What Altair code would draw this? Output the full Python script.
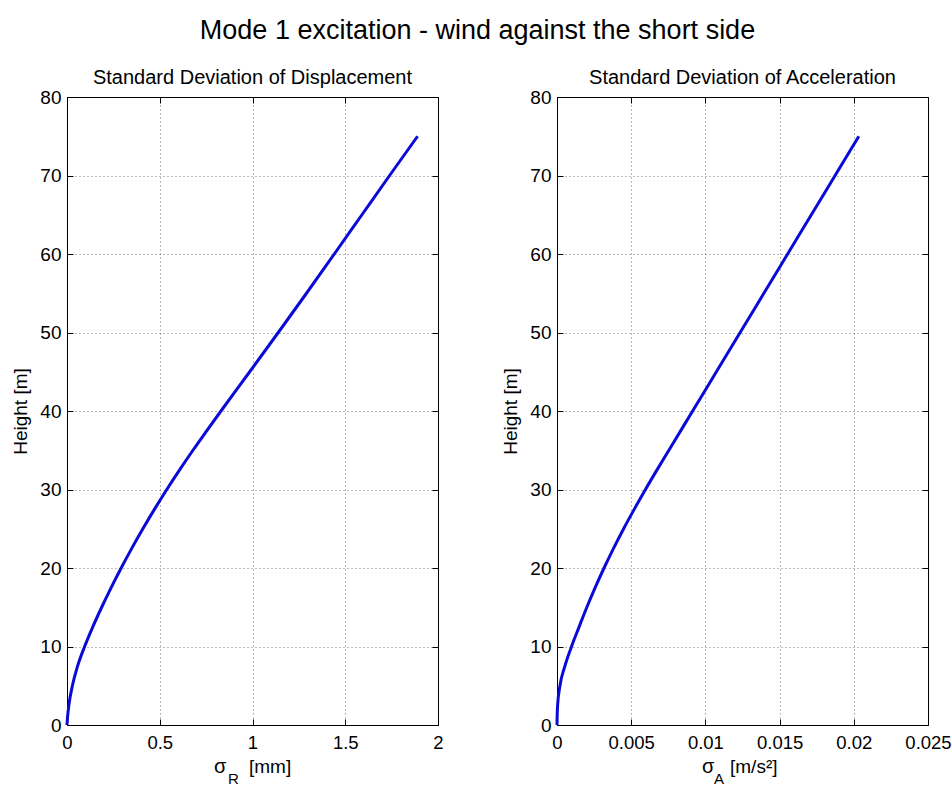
import altair as alt
import pandas as pd

# Height above ground [m] at which the response is evaluated
HEIGHT_M = [0, 1, 2.5, 5, 7.5, 10, 12.5, 15, 17.5, 20, 22.5, 25, 27.5, 30,
            32.5, 35, 37.5, 40, 45, 50, 55, 60, 65, 70, 75]
# Standard deviation of displacement [mm]
SIGMA_R_MM = [0, 0.003, 0.010, 0.029, 0.057, 0.095, 0.139, 0.187, 0.238,
              0.292, 0.349, 0.409, 0.472, 0.538, 0.607, 0.679, 0.754, 0.830,
              0.985, 1.139, 1.291, 1.441, 1.590, 1.739, 1.890]
# Standard deviation of acceleration [m/s^2]
SIGMA_A = [0, 0.00001, 0.00004, 0.0002, 0.00053, 0.00098, 0.00149, 0.00201,
           0.00257, 0.00317, 0.00381, 0.00449, 0.00521, 0.00596, 0.00674,
           0.00754, 0.00834, 0.00914, 0.01074, 0.01234, 0.01394, 0.01554,
           0.01714, 0.01874, 0.02034]

Y_TICKS = [0, 10, 20, 30, 40, 50, 60, 70, 80]
X_TICKS_R = [0, 0.5, 1, 1.5, 2]
X_TICKS_A = [0, 0.005, 0.01, 0.015, 0.02, 0.025]

MAIN_TITLE = "Mode 1 excitation - wind against the short side"
PANEL_TITLES = ["Standard Deviation of Displacement",
                "Standard Deviation of Acceleration"]
Y_TITLE = "Height [m]"
# x-axis titles: symbol, subscript, unit
X_TITLE_R = ["σ", "R", "[mm]"]
X_TITLE_A = ["σ", "A", "[m/s²]"]

FONT = "Liberation Sans"
BLUE = "#0a0ad8"
W, H = 371, 628

df_r = pd.DataFrame({"height": HEIGHT_M, "value": SIGMA_R_MM})
df_a = pd.DataFrame({"height": HEIGHT_M, "value": SIGMA_A})


def tick_axis(orient, offset, values):
    # inward-pointing tick marks drawn by an axis pulled onto the opposite edge
    return alt.Axis(orient=orient, offset=offset, values=values, labels=False,
                    ticks=True, tickSize=6, tickColor="#000", tickWidth=1,
                    domain=False, grid=False, title=None)


def text_piece(label, x, y, size):
    return alt.Chart(pd.DataFrame({"label": [label]})).mark_text(
        align="left", baseline="alphabetic", font=FONT, fontSize=size,
        color="#000").encode(x=alt.value(x), y=alt.value(y), text="label:N")


def panel(df, xmax, xticks, title, xtitle, xpos):
    base = alt.Chart(df)
    xs = alt.Scale(domain=[0, xmax], nice=False, zero=True)
    ys = alt.Scale(domain=[0, 80], nice=False)
    grid_style = dict(grid=True, gridColor="#000", gridDash=[1, 3],
                      gridOpacity=0.55, gridWidth=1)
    main = base.mark_line(color=BLUE, strokeWidth=3,
                          interpolate="monotone").encode(
        x=alt.X("value:Q", scale=xs,
                axis=alt.Axis(orient="bottom", values=xticks, format="~g",
                              ticks=False, tickSize=0, domain=False, title=None,
                              labelFlush=False, labelOverlap=False,
                              labelPadding=8, labelFont=FONT,
                              labelFontSize=18.5, labelColor="#000",
                              **grid_style)),
        y=alt.Y("height:Q", scale=ys,
                axis=alt.Axis(orient="left", values=Y_TICKS, ticks=False,
                              tickSize=0, domain=False, title=Y_TITLE,
                              labelFlush=False, labelOverlap=False,
                              labelPadding=6, labelFont=FONT, labelFontSize=19,
                              labelColor="#000", titleFont=FONT,
                              titleFontSize=19, titleFontWeight="normal",
                              titleColor="#000", titlePadding=9,
                              **grid_style)),
    )
    ticks_a = base.mark_line(strokeOpacity=0).encode(
        x=alt.X("value:Q", scale=xs, axis=tick_axis("top", -H, xticks)),
        y=alt.Y("height:Q", scale=ys, axis=tick_axis("right", -W, Y_TICKS)),
    )
    ticks_b = base.mark_line(strokeOpacity=0).encode(
        x=alt.X("value:Q", scale=xs, axis=tick_axis("bottom", -H, xticks)),
        y=alt.Y("height:Q", scale=ys, axis=tick_axis("left", -W, Y_TICKS)),
    )
    sym = text_piece(xtitle[0], xpos[0], H + 48, 20)
    sub = text_piece(xtitle[1], xpos[1], H + 59, 15)
    unit = text_piece(xtitle[2], xpos[2], H + 48, 19)
    return alt.layer(main, ticks_a, ticks_b, sym, sub, unit).resolve_axis(
        x="independent", y="independent"
    ).properties(
        width=W, height=H,
        title=alt.TitleParams(text=title, font=FONT, fontSize=20,
                              fontWeight="normal", color="#000",
                              baseline="alphabetic", anchor="middle",
                              frame="group", offset=-16),
    )


left = panel(df_r, 2, X_TICKS_R, PANEL_TITLES[0], X_TITLE_R, [147, 161, 182])
right = panel(df_a, 0.025, X_TICKS_A, PANEL_TITLES[1], X_TITLE_A,
              [145, 157, 173])

chart = alt.hconcat(left, right, spacing=57).properties(
    title=alt.TitleParams(text=MAIN_TITLE, font=FONT, fontSize=27,
                          fontWeight="normal", color="#000",
                          baseline="alphabetic", anchor="middle", offset=2,
                          dx=-4),
    padding={"left": 11, "top": 16, "right": 0, "bottom": 0},
    background="white",
).configure_view(stroke="#000", strokeWidth=1)

chart.save("out.html", embed_options={"renderer": "svg", "actions": False})
